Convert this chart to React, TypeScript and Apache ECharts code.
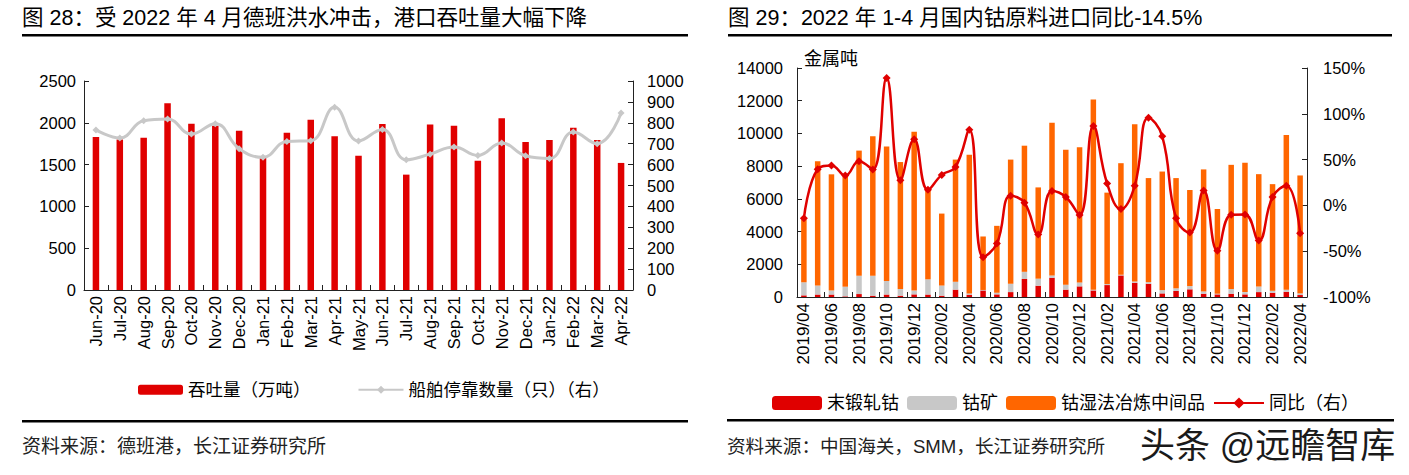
import React, { useEffect, useRef } from "react";
import * as echarts from "echarts";

// ---------- Chart 28 data ----------
const months28 = ["Jun-20","Jul-20","Aug-20","Sep-20","Oct-20","Nov-20","Dec-20","Jan-21","Feb-21","Mar-21","Apr-21","May-21","Jun-21","Jul-21","Aug-21","Sep-21","Oct-21","Nov-21","Dec-21","Jan-22","Feb-22","Mar-22","Apr-22"];
const throughput = [1830,1800,1820,2235,1990,1965,1905,1595,1880,2035,1840,1605,1985,1380,1980,1965,1545,2055,1770,1795,1940,1795,1520];
const ships = [766,727,810,818,746,796,676,635,711,714,874,713,768,623,650,684,644,703,642,629,756,700,847];

// ---------- Chart 29 data ----------
const months29 = ["2019/04","2019/05","2019/06","2019/07","2019/08","2019/09","2019/10","2019/11","2019/12","2020/01","2020/02","2020/03","2020/04","2020/05","2020/06","2020/07","2020/08","2020/09","2020/10","2020/11","2020/12","2021/01","2021/02","2021/03","2021/04","2021/05","2021/06","2021/07","2021/08","2021/09","2021/10","2021/11","2021/12","2022/01","2022/02","2022/03","2022/04"];
const unwrought = [100,150,150,40,180,80,150,80,160,150,80,450,140,400,160,300,1100,690,1180,450,650,400,730,1320,870,810,220,370,470,200,160,200,160,300,260,320,120];
const ore = [800,550,250,590,1120,1220,830,410,230,930,620,480,80,30,100,510,440,430,140,300,240,40,60,40,80,100,200,160,200,140,40,290,140,340,120,120,100];
const intermediate = [3850,7600,7100,6770,7650,8530,8220,7760,9710,5470,4400,7470,8480,3270,4090,7590,7710,5580,9330,8250,8260,11640,5590,6820,9610,6360,7250,6740,5870,7460,5180,7590,7900,6870,6520,9460,7210];
const yoy = [-14.1,39.5,43.5,32.6,48.2,39.1,139,27.5,72.1,17,33.3,42,82.6,-56.5,-41.7,10.5,2.9,-31.9,15.6,9.1,-10.5,86.6,23.9,-4,21.4,95.7,75.4,-14.1,-29.7,16.3,-49.6,-10.1,-9.8,-38.4,9.1,21.4,-30.4];

const FONT = '"Liberation Sans", Arial, "Noto Sans CJK SC", sans-serif';
const RED = "#e00000";
const GREY = "#c8c8c8";
const ORANGE = "#ff6600";
const AXIS = "#222";

export default function App() {
  const ref = useRef<HTMLDivElement>(null);
  useEffect(() => {
    if (!ref.current) return;
    const chart = echarts.init(ref.current, null, { renderer: "svg" });
    const axisCommon = {
      axisLine: { show: true, lineStyle: { color: AXIS, width: 1 } },
      axisTick: { show: true, inside: true, length: 5, lineStyle: { color: AXIS } },
      splitLine: { show: false },
    };
    const lbl = { fontSize: 16.5, color: "#000", fontFamily: FONT };
    const plain = (v: number) => String(v);
    const option: any = {
      animation: false,
      backgroundColor: "#fff",
      textStyle: { fontFamily: FONT },
      grid: [
        { left: 84, top: 81, width: 549, height: 209 },
        { left: 797, top: 68, width: 510, height: 229 },
      ],
      xAxis: [
        {
          type: "category", gridIndex: 0, data: months28, ...axisCommon,
          axisTick: { ...axisCommon.axisTick, interval: 0 },
          axisLabel: { ...lbl, rotate: 90, interval: 0, margin: 6 },
        },
        {
          type: "category", gridIndex: 1, data: months29, ...axisCommon,
          axisTick: { ...axisCommon.axisTick, interval: 1 },
          axisLabel: { ...lbl, fontSize: 17, rotate: 90, interval: 1, margin: 6 },
        },
      ],
      yAxis: [
        { type: "value", gridIndex: 0, position: "left", min: 0, max: 2500, interval: 500, ...axisCommon, axisLabel: { ...lbl, margin: 8, formatter: plain } },
        { type: "value", gridIndex: 0, position: "right", min: 0, max: 1000, interval: 100, ...axisCommon, axisLabel: { ...lbl, margin: 14, formatter: plain } },
        { type: "value", gridIndex: 1, position: "left", min: 0, max: 14000, interval: 2000, ...axisCommon, axisLabel: { ...lbl, margin: 14, formatter: plain } },
        { type: "value", gridIndex: 1, position: "right", min: -100, max: 150, interval: 50, ...axisCommon, axisLabel: { ...lbl, margin: 16, formatter: "{value}%" } },
      ],
      legend: [
        {
          left: 133, top: 376, itemWidth: 45, itemHeight: 10, itemGap: 47,
          textStyle: { fontSize: 17.5, color: "#000", fontFamily: FONT },
          data: ["吞吐量（万吨）", "船舶停靠数量（只）（右）"],
        },
        {
          left: 767, top: 389, itemWidth: 50, itemHeight: 14, itemGap: 8,
          textStyle: { fontSize: 18, color: "#000", fontFamily: FONT },
          data: ["末锻轧钴", "钴矿", "钴湿法冶炼中间品", "同比（右）"],
        },
      ],
      series: [
        { name: "吞吐量（万吨）", type: "bar", xAxisIndex: 0, yAxisIndex: 0, data: throughput, barWidth: 6.5, itemStyle: { color: RED } },
        {
          name: "船舶停靠数量（只）（右）", type: "line", xAxisIndex: 0, yAxisIndex: 1, data: ships, smooth: 0.45,
          symbol: "diamond", symbolSize: 7, lineStyle: { color: GREY, width: 3 }, itemStyle: { color: GREY },
        },
        { name: "末锻轧钴", type: "bar", stack: "cobalt", xAxisIndex: 1, yAxisIndex: 2, data: unwrought, barWidth: 5.5, itemStyle: { color: RED } },
        { name: "钴矿", type: "bar", stack: "cobalt", xAxisIndex: 1, yAxisIndex: 2, data: ore, barWidth: 5.5, itemStyle: { color: GREY } },
        { name: "钴湿法冶炼中间品", type: "bar", stack: "cobalt", xAxisIndex: 1, yAxisIndex: 2, data: intermediate, barWidth: 5.5, itemStyle: { color: ORANGE } },
        {
          name: "同比（右）", type: "line", xAxisIndex: 1, yAxisIndex: 3, data: yoy, smooth: 0.45,
          symbol: "diamond", symbolSize: 8, lineStyle: { color: RED, width: 2.5 }, itemStyle: { color: RED },
        },
      ],
      graphic: [
        { type: "text", left: 22, top: 7, style: { text: "图 28：受 2022 年 4 月德班洪水冲击，港口吞吐量大幅下降", fontSize: 21.5, fill: "#000", fontFamily: FONT } },
        { type: "rect", shape: { x: 22, y: 34, width: 666, height: 2.5 }, style: { fill: "#000" } },
        { type: "text", left: 728, top: 7, style: { text: "图 29：2022 年 1-4 月国内钴原料进口同比-14.5%", fontSize: 21.5, fill: "#000", fontFamily: FONT } },
        { type: "rect", shape: { x: 728, y: 34, width: 664, height: 2.5 }, style: { fill: "#000" } },
        { type: "text", left: 804, top: 50, style: { text: "金属吨", fontSize: 18, fill: "#000", fontFamily: FONT } },
        { type: "rect", shape: { x: 22, y: 420, width: 666, height: 2.5 }, style: { fill: "#000" } },
        { type: "rect", shape: { x: 727, y: 419, width: 667, height: 2.5 }, style: { fill: "#000" } },
        { type: "text", left: 22, top: 437, style: { text: "资料来源：德班港，长江证券研究所", fontSize: 19, fill: "#222", fontFamily: FONT } },
        { type: "text", left: 727, top: 437, style: { text: "资料来源：中国海关，SMM，长江证券研究所", fontSize: 18.6, fill: "#222", fontFamily: FONT } },
        { type: "text", left: 1140, top: 428, style: { text: "头条 @远瞻智库", fontSize: 35, fill: "#1a1a1a", fontFamily: FONT } },
      ],
    };
    chart.setOption(option);
    return () => chart.dispose();
  }, []);
  return (
    <div
      ref={ref}
      style={{ position: "absolute", left: 0, top: 0, width: 1409, height: 475, background: "#fff" }}
    />
  );
}
